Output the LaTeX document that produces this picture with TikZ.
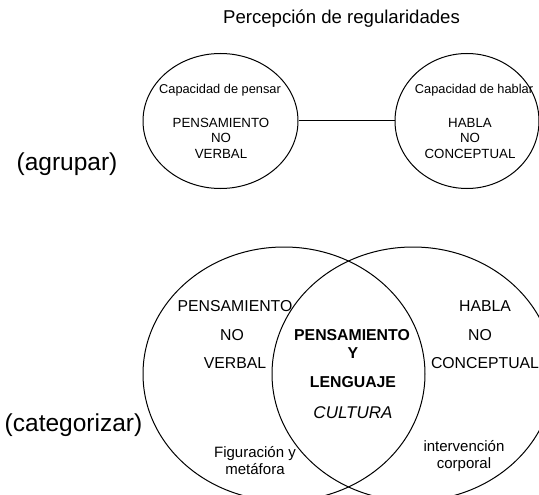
\documentclass[tikz,border=0pt]{standalone}
\usepackage{fontspec}
\setmainfont{Liberation Sans}
\usetikzlibrary{shapes.geometric}
\tikzset{
  ring/.style={draw, ellipse, line width=1pt, inner sep=0pt},
  lbl/.style={inner sep=0pt, align=center, text=black},
  ttl/.style={lbl, font=\fontsize{18.6}{20}\selectfont},
  side/.style={lbl, font=\fontsize{24.5}{26}\selectfont},
  captxt/.style={lbl, font=\fontsize{12.8}{13}\selectfont},
  topt/.style={lbl, font=\fontsize{13.3}{15.5}\selectfont},
  bot/.style={lbl, font=\fontsize{15.8}{18}\selectfont},
  link/.style={line width=1pt}
}
\begin{document}
\begin{tikzpicture}[x=1pt,y=-1pt]
\useasboundingbox (0,0) rectangle (539,495);
\clip (0,0) rectangle (539,495);
% title
\node[ttl] (title) at (341.5,19) {Percepción de regularidades};
% top ellipses
\node[ring, minimum width=155pt, minimum height=135pt] (pensar) at (220.5,121) {};
\node[ring, minimum width=144pt, minimum height=135pt] (hablar) at (467,121) {};
\draw[link] (pensar.east) -- (hablar.west);
\node[captxt] (cp) at (220,90) {Capacidad de pensar};
\node[topt] (pnv) at (221,138) {PENSAMIENTO\\NO\\VERBAL};
\node[captxt] (ch) at (474,90) {Capacidad de hablar};
\node[topt] (hnc) at (470,138) {HABLA\\NO\\CONCEPTUAL};
\node[side] (agr) at (67,164) {(agrupar)};
% bottom ellipses
\node[ring, minimum width=282pt, minimum height=254pt] (left) at (284,374) {};
\node[ring, minimum width=282pt, minimum height=254pt] (right) at (413,374) {};
\node[bot] (l1) at (235,306) {PENSAMIENTO};
\node[bot] (l2) at (232,335) {NO};
\node[bot] (l3) at (235,363) {VERBAL};
\node[bot] (r1) at (485,306) {HABLA};
\node[bot] (r2) at (480,335) {NO};
\node[bot] (r3) at (485,363) {CONCEPTUAL};
\node[bot, font=\fontsize{15.8}{18}\selectfont\bfseries] (c1) at (352,335) {PENSAMIENTO};
\node[bot, font=\fontsize{15.8}{18}\selectfont\bfseries] (c2) at (353,353) {Y};
\node[bot, font=\fontsize{15.8}{18}\selectfont\bfseries] (c3) at (353,382) {LENGUAJE};
\node[bot, font=\fontsize{17}{18}\selectfont\itshape] (c4) at (353,413) {CULTURA};
\node[bot, font=\fontsize{15}{17}\selectfont] (fig) at (255,461) {Figuración y\\metáfora};
\node[bot, font=\fontsize{15}{17}\selectfont] (int) at (464,456) {intervención\\corporal};
\node[side] (cat) at (73.5,425) {(categorizar)};
\end{tikzpicture}
\end{document}
